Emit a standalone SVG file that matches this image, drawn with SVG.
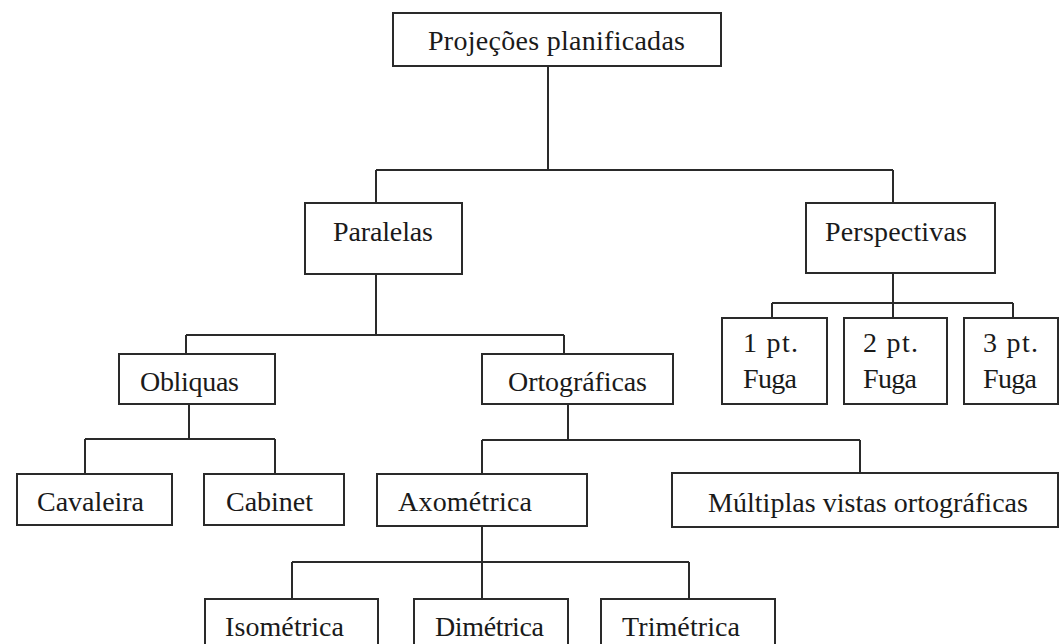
<svg xmlns="http://www.w3.org/2000/svg" width="1061" height="644" viewBox="0 0 1061 644">
<style>
.box{fill:#fff;stroke:#2a2a2a;stroke-width:2}
.lbl{font-family:"Liberation Serif","Times New Roman",serif;font-size:28px;fill:#1a1a1a}
.con{fill:none;stroke:#2a2a2a;stroke-width:2}
</style>
<rect width="1061" height="644" fill="#fff"/>
<g id="connectors">
<path class="con" d="M548 66V170M376 170H893M376 170V203M893 170V203"/>
<path class="con" d="M893 273V318M772 303H1013M772 303V318M1013 303V318"/>
<path class="con" d="M376 274V335M186 335H564M186 335V354M564 335V354"/>
<path class="con" d="M189 404V439M85 439H275M85 439V474M275 439V474"/>
<path class="con" d="M568 404V440M482 440H860M482 440V474M860 440V473"/>
<path class="con" d="M482 526V599M292 562H689M292 562V599M689 562V599"/>
</g>
<g id="n-root"><rect class="box" x="393" y="13" width="328" height="53"/><text class="lbl" x="428" y="50" textLength="257" lengthAdjust="spacing">Projeções planificadas</text></g>
<g id="n-paralelas"><rect class="box" x="305" y="203" width="157" height="71"/><text class="lbl" x="333" y="241" textLength="100" lengthAdjust="spacing">Paralelas</text></g>
<g id="n-perspectivas"><rect class="box" x="806" y="203" width="189" height="70"/><text class="lbl" x="825" y="241" textLength="142" lengthAdjust="spacing">Perspectivas</text></g>
<g id="n-1pt"><rect class="box" x="722" y="318" width="105" height="86"/><text class="lbl" x="743" y="352" textLength="55" lengthAdjust="spacing">1 pt.</text><text class="lbl" x="743" y="388" textLength="54" lengthAdjust="spacing">Fuga</text></g>
<g id="n-2pt"><rect class="box" x="844" y="318" width="103" height="86"/><text class="lbl" x="863" y="352" textLength="55" lengthAdjust="spacing">2 pt.</text><text class="lbl" x="863" y="388" textLength="54" lengthAdjust="spacing">Fuga</text></g>
<g id="n-3pt"><rect class="box" x="964" y="318" width="94" height="86"/><text class="lbl" x="983" y="352" textLength="55" lengthAdjust="spacing">3 pt.</text><text class="lbl" x="983" y="388" textLength="54" lengthAdjust="spacing">Fuga</text></g>
<g id="n-obliquas"><rect class="box" x="119" y="354" width="156" height="50"/><text class="lbl" x="140" y="391" textLength="99" lengthAdjust="spacing">Obliquas</text></g>
<g id="n-ortograficas"><rect class="box" x="482" y="354" width="191" height="50"/><text class="lbl" x="508" y="391" textLength="139" lengthAdjust="spacing">Ortográficas</text></g>
<g id="n-cavaleira"><rect class="box" x="17" y="474" width="155" height="51"/><text class="lbl" x="37" y="511" textLength="107" lengthAdjust="spacing">Cavaleira</text></g>
<g id="n-cabinet"><rect class="box" x="204" y="474" width="140" height="51"/><text class="lbl" x="226" y="511" textLength="87" lengthAdjust="spacing">Cabinet</text></g>
<g id="n-axometrica"><rect class="box" x="377" y="474" width="210" height="52"/><text class="lbl" x="398" y="511" textLength="134" lengthAdjust="spacing">Axométrica</text></g>
<g id="n-multiplas"><rect class="box" x="672" y="473" width="386" height="54"/><text class="lbl" x="708" y="512" textLength="320" lengthAdjust="spacing">Múltiplas vistas ortográficas</text></g>
<g id="n-isometrica"><rect class="box" x="205" y="599" width="173" height="60"/><text class="lbl" x="225" y="636" textLength="119" lengthAdjust="spacing">Isométrica</text></g>
<g id="n-dimetrica"><rect class="box" x="414" y="599" width="154" height="60"/><text class="lbl" x="435" y="636" textLength="109" lengthAdjust="spacing">Dimétrica</text></g>
<g id="n-trimetrica"><rect class="box" x="601" y="599" width="174" height="60"/><text class="lbl" x="622" y="636" textLength="118" lengthAdjust="spacing">Trimétrica</text></g>
</svg>
